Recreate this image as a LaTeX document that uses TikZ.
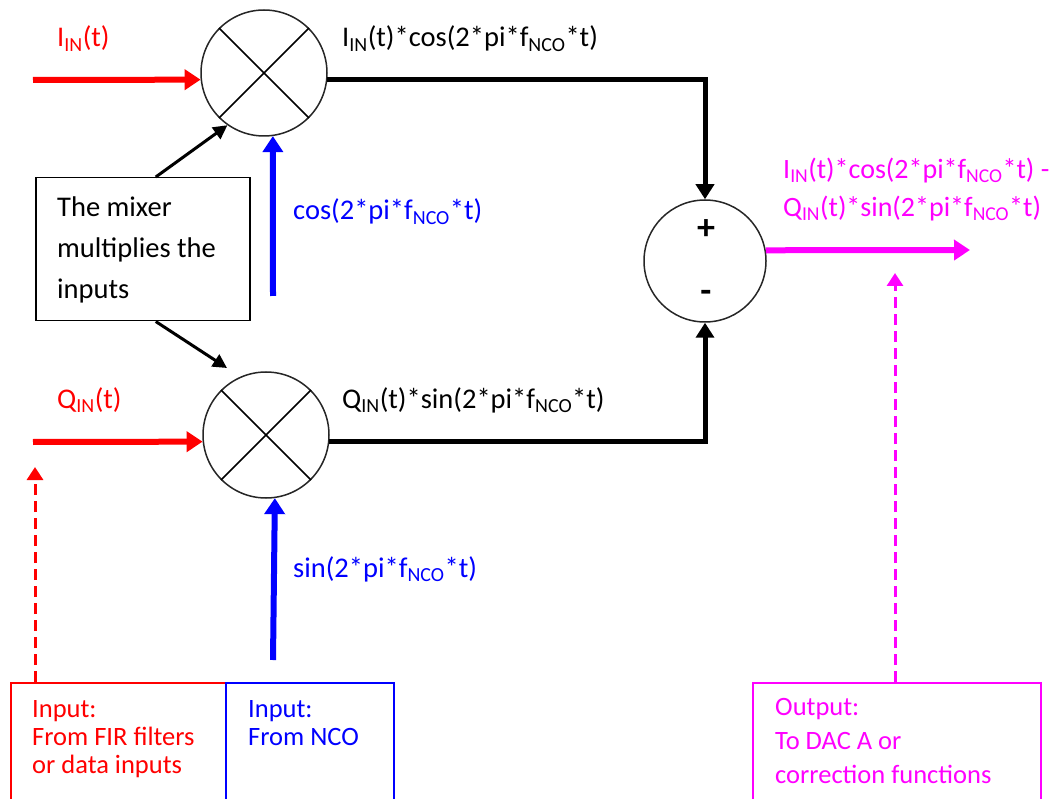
\documentclass[tikz,border=0pt]{standalone}
\usepackage{fontspec}
\setmainfont{Carlito}
\usepackage{tikz}
\usetikzlibrary{arrows.meta,positioning,calc}
\definecolor{inred}{RGB}{255,0,0}
\definecolor{ncoblue}{RGB}{0,0,255}
\definecolor{outmagenta}{RGB}{255,0,255}
\newcommand{\lowidx}[1]{\textsubscript{#1}}

\begin{document}
\begin{tikzpicture}[x=1pt,y=-1pt,
  mixer/.style={circle, draw=black!85, line width=1.5pt, minimum size=126pt, inner sep=0pt},
  adder/.style={circle, draw=black!85, line width=1.5pt, minimum size=122pt, inner sep=0pt},
  lbl/.style={anchor=base west, inner sep=0pt, font=\fontsize{28.5}{32}\selectfont},
  notebox/.style={rectangle, draw=black, line width=1.5pt, minimum width=214pt, minimum height=143pt, anchor=north west},
  iobox/.style={rectangle, line width=2pt, minimum height=140pt, anchor=north west},
  boxtext/.style={anchor=north west, inner sep=0pt, align=left, font=\fontsize{26.5}{28}\selectfont},
  sig/.style={-{Triangle[length=16pt,width=20pt]}, line width=6pt},
  prod/.style={-{Triangle[length=15pt,width=18pt]}, line width=5pt, color=black},
  pointer/.style={-{Triangle[length=14pt,width=14pt]}, line width=3pt, color=black},
  feed/.style={-{Triangle[length=13pt,width=16pt]}, line width=3pt, dash pattern=on 11pt off 6pt}
]
\useasboundingbox (0,0) rectangle (1060,799);

% mixers and adder
\node[mixer] (m1) at (264,73) {};
\node[mixer] (m2) at (266,435) {};
\node[adder] (sum) at (705,261) {};
\draw[line width=1.5pt] (m1.45) -- (m1.225) (m1.135) -- (m1.315);
\draw[line width=1.5pt] (m2.45) -- (m2.225) (m2.135) -- (m2.315);
\node[font=\fontsize{36}{36}\selectfont\bfseries] (plus) at (706,230) {+};
\node[font=\fontsize{36}{36}\selectfont\bfseries] (minus) at (706,296) {-};

% explanation box
\node[notebox] (note) at (35,177) {};
\node[anchor=north west, inner sep=0pt, align=left, font=\fontsize{28.5}{41}\selectfont] (notetxt) at (57,197) {The mixer\\multiplies the\\inputs};

% labels
\node[lbl, inred] (iin) at (57,47) {I\lowidx{IN}(t)};
\node[lbl, inred] (qin) at (57,408) {Q\lowidx{IN}(t)};
\node[lbl] (iprod) at (342,47) {I\lowidx{IN}(t)*cos(2*pi*f\lowidx{NCO}*t)};
\node[lbl] (qprod) at (342,408) {Q\lowidx{IN}(t)*sin(2*pi*f\lowidx{NCO}*t)};
\node[lbl, ncoblue] (coslbl) at (293,220) {cos(2*pi*f\lowidx{NCO}*t)};
\node[lbl, ncoblue] (sinlbl) at (293,577) {sin(2*pi*f\lowidx{NCO}*t)};
\node[lbl, outmagenta, anchor=north west, align=left, font=\fontsize{28}{38}\selectfont] (outlbl) at (783,158) {I\lowidx{IN}(t)*cos(2*pi*f\lowidx{NCO}*t) -\\Q\lowidx{IN}(t)*sin(2*pi*f\lowidx{NCO}*t)};

% bottom boxes
\node[iobox, draw=inred, minimum width=215pt] (firbox) at (10,682) {};
\node[iobox, draw=ncoblue, minimum width=168pt] (ncobox) at (225,682) {};
\node[iobox, draw=outmagenta, minimum width=288pt] (dacbox) at (752,682) {};
\node[boxtext, inred] (firtxt) at (32,700) {Input:\\From FIR filters\\or data inputs};
\node[boxtext, ncoblue] (ncotxt) at (248,700) {Input:\\From NCO};
\node[boxtext, outmagenta, font=\fontsize{26.5}{34}\selectfont] (dactxt) at (775,698) {Output:\\To DAC A or\\correction functions};

% free ends
\coordinate (istart) at (33,80);
\coordinate (qstart) at (33,442);
\coordinate (cosstart) at (273,296);
\coordinate (sinstart) at (273,660);
\coordinate (outend) at (970,250);
\coordinate (tip2) at (227,368);
\coordinate (redtip) at (35,467);
\coordinate (magtip) at (895,273);

% signal flow
\draw[sig, inred] (istart) -- (m1.186);
\draw[sig, inred] (qstart) -- (m2.186);
\draw[sig, ncoblue] (cosstart) -- (m1.278);
\draw[sig, ncoblue] (sinstart) -- (m2.278);
\draw[prod] (m1.354) -| (sum.north);
\draw[prod] (m2.354) -| (sum.south);
\draw[sig, outmagenta] (sum.10) -- (outend);
\draw[pointer] ([xshift=13pt]note.north) -- (m1.235);
\draw[pointer] ([xshift=13pt]note.south) -- (tip2);
\draw[feed, inred] (firbox.north west -| redtip) -- (redtip);
\draw[feed, outmagenta] (dacbox.north west -| magtip) -- (magtip);
\end{tikzpicture}
\end{document}
